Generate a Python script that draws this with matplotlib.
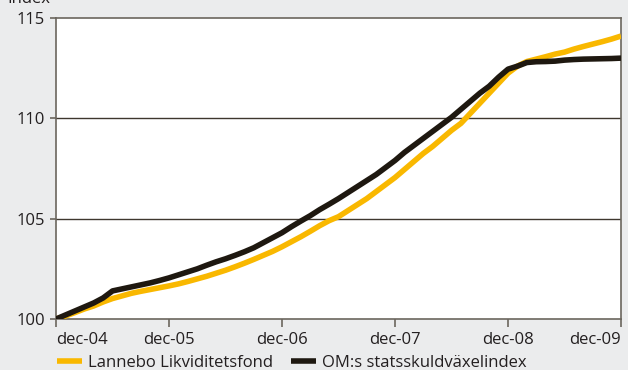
import matplotlib.pyplot as plt
import pandas as pd

# monthly index values, dec-04 .. dec-09 (start = 100)
months = pd.date_range("2004-12-01", "2009-12-01", freq="MS")

lannebo = [
    100.0, 100.15, 100.32, 100.5, 100.65, 100.85, 101.02, 101.15, 101.28, 101.38,
    101.47, 101.56, 101.65, 101.75, 101.87, 102.0, 102.13, 102.28, 102.43, 102.6,
    102.78, 102.97, 103.17, 103.37, 103.6, 103.85, 104.1, 104.37, 104.65, 104.9,
    105.1, 105.4, 105.7, 106.0, 106.35, 106.7, 107.05, 107.45, 107.85, 108.25,
    108.6, 109.0, 109.4, 109.75, 110.25, 110.75, 111.25, 111.75, 112.25, 112.6,
    112.83, 112.95, 113.07, 113.2, 113.3, 113.45, 113.58, 113.7, 113.82, 113.95,
    114.1,
]
omrx = [
    100.0, 100.2, 100.4, 100.6, 100.8, 101.05, 101.4, 101.5, 101.6, 101.7,
    101.8, 101.92, 102.05, 102.2, 102.35, 102.5, 102.68, 102.85, 103.0, 103.17,
    103.35, 103.55, 103.8, 104.05, 104.3, 104.6, 104.88, 105.15, 105.45, 105.72,
    106.0, 106.3, 106.6, 106.9, 107.2, 107.55, 107.9, 108.3, 108.65, 109.0,
    109.35, 109.7, 110.05, 110.45, 110.85, 111.25, 111.6, 112.05, 112.45, 112.6,
    112.78, 112.82, 112.83, 112.85, 112.9, 112.93, 112.95, 112.96, 112.97, 112.98,
    113.0,
]

series_names = ["Lannebo Likviditetsfond", "OM:s statsskuldväxelindex"]
xtick_labels = ["dec-04", "dec-05", "dec-06", "dec-07", "dec-08", "dec-09"]
ytick_values = [100, 105, 110, 115]

bg = "#ebeced"
txt = "#231f20"
frame = "#6b665e"
fs = 12

plt.rcParams["font.family"] = ["Open Sans", "DejaVu Sans"]

fig = plt.figure(figsize=(6.28, 3.70), dpi=100, facecolor=bg)
ax = fig.add_axes([0.0892, 0.1378, 0.8997, 0.8136])
ax.set_facecolor("white")

x = list(range(len(months)))
ax.plot(x, lannebo, color="#f9b800", lw=4.0, solid_capstyle="butt", label=series_names[0], zorder=3)
ax.plot(x, omrx, color="#1e1810", lw=4.0, solid_capstyle="butt", label=series_names[1], zorder=4)

ax.set_xlim(0, len(months) - 1)
ax.set_ylim(100, 115)
ax.set_xticks(x[::12])
ax.set_xticklabels(xtick_labels)
ax.set_yticks(ytick_values)

# first and last date labels sit inside the plot width
xl = ax.get_xticklabels()
xl[0].set_horizontalalignment("left")
xl[-1].set_horizontalalignment("right")

for v in ytick_values[1:-1]:
    ax.axhline(v, color="#3e372e", lw=1.0, zorder=1)

for s in ax.spines.values():
    s.set_color(frame)
    s.set_linewidth(1.2)

ax.tick_params(axis="both", colors=frame, labelcolor=txt, labelsize=fs, width=1.2)
ax.tick_params(axis="y", length=4, pad=4)
ax.tick_params(axis="x", length=6, pad=3)

# axis caption runs off the top edge
fig.text(0.012, 0.993, "Index", fontsize=fs, color=txt, va="baseline")

fig.legend(loc="center left", bbox_to_anchor=(0.067, 0.02), ncol=2, frameon=False,
           fontsize=fs, handlelength=1.5, handletextpad=0.36, columnspacing=1.1,
           labelcolor=txt)

fig.savefig("out.png", dpi=100, facecolor=bg)
